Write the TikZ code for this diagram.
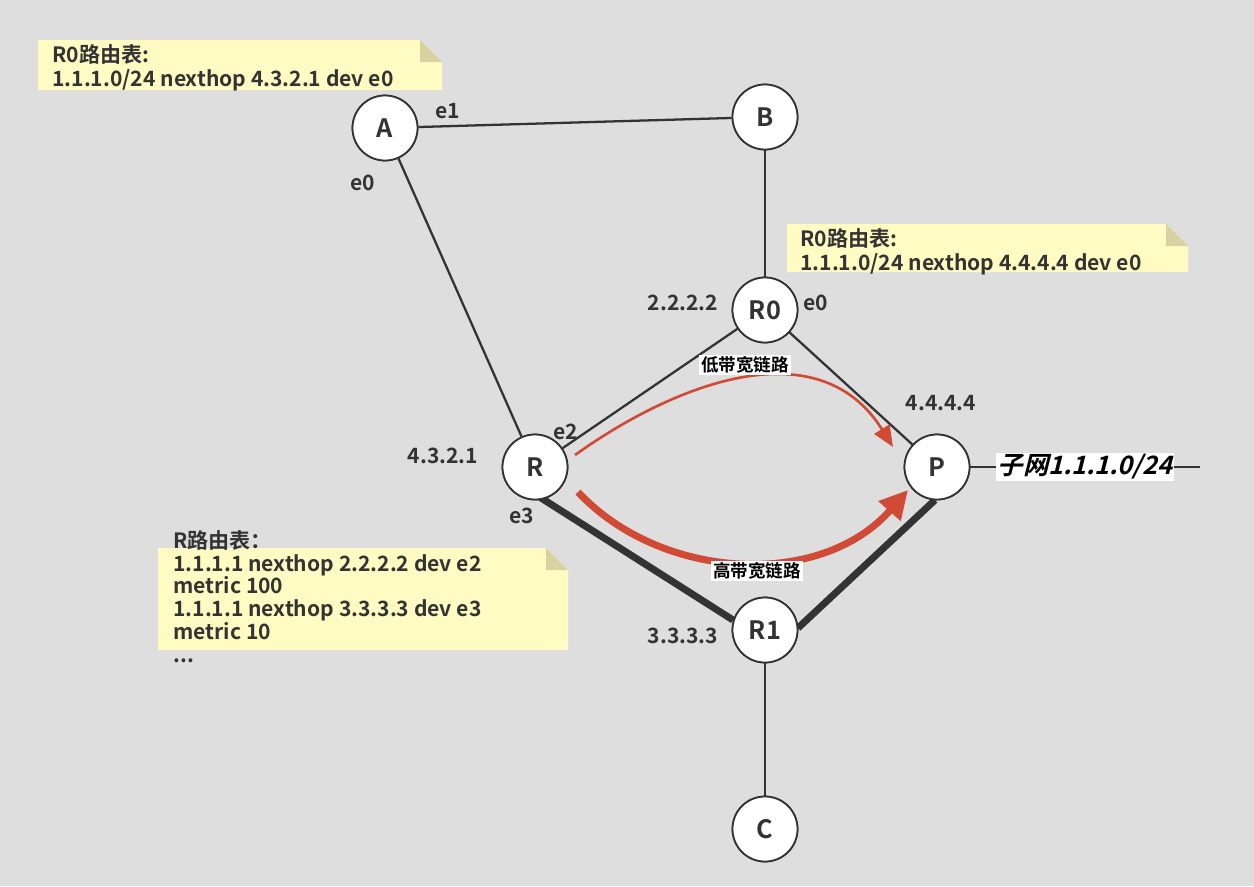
\documentclass[tikz,border=0pt]{standalone}
\usepackage{fontspec}
\setmainfont{Noto Sans CJK SC}[BoldFont={Noto Sans CJK SC Bold}]
\newfontfamily\slantfont{Noto Sans CJK SC Bold}[FakeSlant=0.25]
\usetikzlibrary{arrows.meta}
\definecolor{bg}{HTML}{DEDEDE}
\definecolor{note}{HTML}{FFFBC2}
\definecolor{fold}{HTML}{D8D2A0}
\definecolor{ink}{HTML}{333333}
\definecolor{arr}{HTML}{D04A35}
\tikzset{
  rt/.style={circle,draw=ink,line width=1pt,fill=white,minimum size=1.3cm,inner sep=0pt,font=\Large\bfseries,text=ink},
  lnk/.style={draw=ink,line width=1.3pt},
  thk/.style={draw=ink,line width=4pt},
  lbl/.style={font=\large\bfseries,text=ink,inner sep=1pt},
  notetxt/.style={font=\bfseries\large,text=ink,align=left,anchor=north west,inner sep=0pt},
}
\newcommand{\mynote}[4]{%
  \fill[note] (#1,#2) -- (#3-22,#2) -- (#3,#2+22) -- (#3,#4) -- (#1,#4) -- cycle;
  \fill[fold] (#3-22,#2) -- (#3-22,#2+22) -- (#3,#2+22) -- cycle;}
\begin{document}
\begin{tikzpicture}[x=0.02cm,y=-0.02cm]
\fill[bg] (0,0) rectangle (1254,886);
\useasboundingbox (0,0) rectangle (1254,886);
% notes
\mynote{38}{40}{442}{90}
\node[notetxt] (n1) at (52,44) {R0路由表:\\[0pt]1.1.1.0/24 nexthop 4.3.2.1 dev e0};
\mynote{787}{224}{1188}{272}
\node[notetxt] (n2) at (800,228) {R0路由表:\\[0pt]1.1.1.0/24 nexthop 4.4.4.4 dev e0};
\mynote{158}{548}{568}{650}
\node[notetxt] (n3) at (173,530) {R路由表：\\[-1pt]1.1.1.1 nexthop 2.2.2.2 dev e2\\[-1pt]metric 100\\[-1pt]1.1.1.1 nexthop 3.3.3.3 dev e3\\[-1pt]metric 10\\[-1pt]...};
% nodes
\node[rt] (A) at (385,128) {A};
\node[rt] (B) at (765,117) {B};
\node[rt] (R0) at (765,310) {R0};
\node[rt] (R) at (535,467) {R};
\node[rt] (P) at (937,467) {P};
\node[rt] (R1) at (765,630) {R1};
\node[rt] (C) at (765,829) {C};
\coordinate (end) at (1200,467);
\coordinate (ra) at (538,496); \coordinate (r1a) at (733,620);
\coordinate (r1b) at (798,628); \coordinate (pa) at (935,500);
% links
\draw[lnk] (A) -- (B);
\draw[lnk] (B) -- (R0);
\draw[lnk] (A) -- (R);
\draw[lnk] (R0) -- (R);
\draw[lnk] (R0) -- (P);
\draw[lnk] (R1) -- (C);
\draw[thk] (ra) -- (r1a);
\draw[thk] (r1b) -- (pa);
\draw[lnk] (P) -- (end);
\node[fill=white,inner sep=1pt,font=\Large\slantfont,text=black] (sub) at (1085,467) {子网1.1.1.0/24};
\foreach \n/\t in {A/A,B/B,R0/R0,R/R,P/P,R1/R1,C/C}{\node[rt] at (\n) {\t};}
% arrows
\coordinate (s1) at (575,455); \coordinate (t1) at (893,447);
\draw[arr,line width=1.5pt,-{Triangle[length=12pt,width=10pt]}] (s1) .. controls (680,380) and (820,330) .. (t1);
\node[fill=white,inner sep=1pt,font=\bfseries,text=black] (low) at (745,365) {低带宽链路};
\coordinate (s2) at (578,492); \coordinate (t2) at (908,490);
\draw[arr,line width=4pt,-{Triangle[length=16pt,width=16pt]}] (s2) .. controls (660,580) and (820,590) .. (t2);
\node[fill=white,inner sep=1pt,font=\bfseries,text=black] (high) at (757,571) {高带宽链路};
% labels
\node[lbl] (l1) at (448,111) {e1};
\node[lbl] (l2) at (363,183) {e0};
\node[lbl] (l3) at (816,303) {e0};
\node[lbl] (l4) at (683,303) {2.2.2.2};
\node[lbl] (l5) at (941,403) {4.4.4.4};
\node[lbl] (l6) at (566,432) {e2};
\node[lbl] (l7) at (443,456) {4.3.2.1};
\node[lbl] (l8) at (522,516) {e3};
\node[lbl] (l9) at (683,636) {3.3.3.3};
\end{tikzpicture}
\end{document}
